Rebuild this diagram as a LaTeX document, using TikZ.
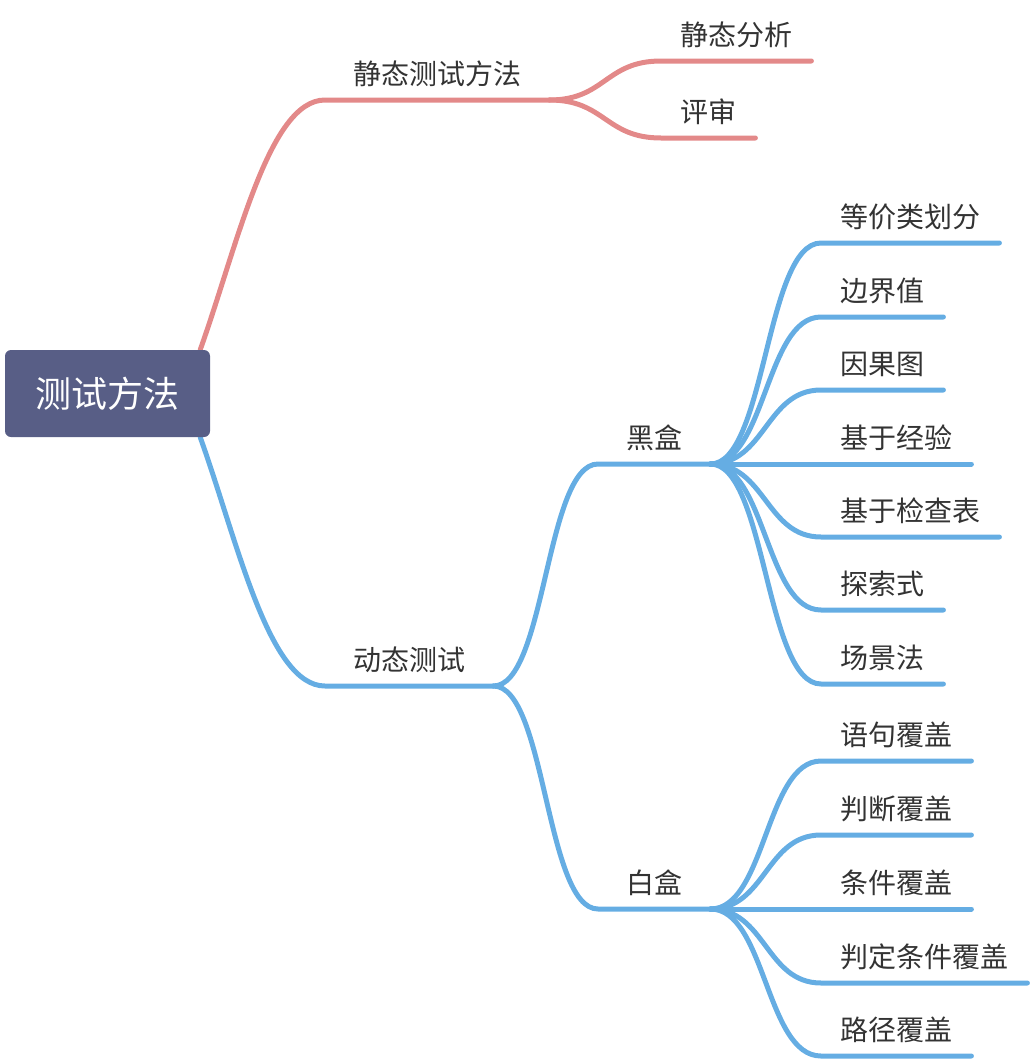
\documentclass[tikz,border=0pt]{standalone}
\usepackage{fontspec}
\newfontfamily\cjk{Noto Sans CJK SC}
\usetikzlibrary{calc,backgrounds}
\definecolor{rosy}{RGB}{227,137,137}
\definecolor{sky}{RGB}{101,173,227}
\definecolor{slate}{RGB}{88,94,134}
\definecolor{ink}{RGB}{51,51,51}

\tikzset{
  topic/.style={font=\cjk\fontsize{28}{34}\selectfont,text=ink,anchor=south west,
    inner xsep=28pt,inner ysep=15pt,text depth=0pt},
  leaf/.style={topic,inner xsep=19pt},
  rootbox/.style={fill=slate,rounded corners=6pt,minimum width=205pt,minimum height=87pt,
    text=white,font=\cjk\fontsize{36}{42}\selectfont},
  redline/.style={draw=rosy,line width=5pt,line cap=round},
  blueline/.style={draw=sky,line width=5pt,line cap=round},
  branch/.style={to path={let \p1=(\tikztostart), \p2=(\tikztotarget) in
    .. controls ({(\x1+\x2)/2},\y1) and ({(\x1+\x2)/2},\y2) .. (\tikztotarget)}},
  trunk/.style={to path={let \p1=(\tikztostart), \p2=(\tikztotarget) in
    .. controls ({\x1+0.3*(\x2-\x1)},{\y1+0.42*(\y2-\y1)}) and ({\x1+0.55*(\x2-\x1)},\y2) .. (\tikztotarget)}}
}

\begin{document}
\begin{tikzpicture}[x=1pt,y=-1pt]
  \useasboundingbox (0,0) rectangle (1030,1060);
  \node[rootbox] (root) at (107.5,393.5) {测试方法};
  % static branch
  \node[topic] (jt) at (325,100) {静态测试方法};
  \node[leaf] (jtfx) at (661,61) {静态分析};
  \node[leaf] (ps) at (661,138) {评审};
  % dynamic branch
  \node[topic] (dt) at (325,686) {动态测试};
  \node[topic] (hh) at (598,464) {黑盒};
  \node[topic] (bh) at (598,909) {白盒};
  % black box
  \node[leaf] (hh1) at (821,243) {等价类划分};
  \node[leaf] (hh2) at (821,317) {边界值};
  \node[leaf] (hh3) at (821,390) {因果图};
  \node[leaf] (hh4) at (821,464) {基于经验};
  \node[leaf] (hh5) at (821,537) {基于检查表};
  \node[leaf] (hh6) at (821,610) {探索式};
  \node[leaf] (hh7) at (821,684) {场景法};
  % white box
  \node[leaf] (bh1) at (821,761) {语句覆盖};
  \node[leaf] (bh2) at (821,835) {判断覆盖};
  \node[leaf] (bh3) at (821,909) {条件覆盖};
  \node[leaf] (bh4) at (821,983) {判定条件覆盖};
  \node[leaf] (bh5) at (821,1056) {路径覆盖};

  \coordinate (up) at ([xshift=-10pt]root.north east);
  \coordinate (down) at ([xshift=-10pt]root.south east);
  \begin{scope}[on background layer]
    \draw[redline] (up) to[trunk] (jt.south west) -- (jt.south east);
    \draw[blueline] (down) to[trunk] (dt.south west) -- (dt.south east);
  \end{scope}

  \draw[redline] (jt.south east) to[branch] (jtfx.south west) -- (jtfx.south east);
  \draw[redline] (jt.south east) to[branch] (ps.south west) -- (ps.south east);

  \draw[blueline] (dt.south east) to[branch] (hh.south west) -- (hh.south east);
  \draw[blueline] (dt.south east) to[branch] (bh.south west) -- (bh.south east);

  \draw[blueline] (hh.south east) to[branch] (hh1.south west) -- (hh1.south east);
  \draw[blueline] (hh.south east) to[branch] (hh2.south west) -- (hh2.south east);
  \draw[blueline] (hh.south east) to[branch] (hh3.south west) -- (hh3.south east);
  \draw[blueline] (hh.south east) to[branch] (hh4.south west) -- (hh4.south east);
  \draw[blueline] (hh.south east) to[branch] (hh5.south west) -- (hh5.south east);
  \draw[blueline] (hh.south east) to[branch] (hh6.south west) -- (hh6.south east);
  \draw[blueline] (hh.south east) to[branch] (hh7.south west) -- (hh7.south east);

  \draw[blueline] (bh.south east) to[branch] (bh1.south west) -- (bh1.south east);
  \draw[blueline] (bh.south east) to[branch] (bh2.south west) -- (bh2.south east);
  \draw[blueline] (bh.south east) to[branch] (bh3.south west) -- (bh3.south east);
  \draw[blueline] (bh.south east) to[branch] (bh4.south west) -- (bh4.south east);
  \draw[blueline] (bh.south east) to[branch] (bh5.south west) -- (bh5.south east);
\end{tikzpicture}
\end{document}
